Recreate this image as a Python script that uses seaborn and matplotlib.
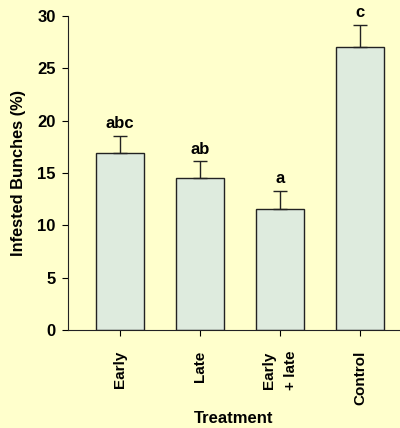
import numpy as np
import pandas as pd
import matplotlib
matplotlib.use("Agg")
import matplotlib.pyplot as plt
import seaborn as sns

treatments = ["Early", "Late", "Early\n+ late", "Control"]
infested = [16.9, 14.5, 11.55, 27.0]
errors = [1.6, 1.6, 1.7, 2.1]
letters = ["abc", "ab", "a", "c"]

bg = "#FFFFCC"
bar_color = "#DEEBDE"

sns.set_style("ticks")
plt.rcParams['font.family'] = ['Liberation Sans', 'DejaVu Sans']
plt.rcParams['font.weight'] = 'bold'
plt.rcParams['text.color'] = 'black'
plt.rcParams['axes.labelcolor'] = 'black'
plt.rcParams['xtick.color'] = 'black'
plt.rcParams['ytick.color'] = 'black'

df = pd.DataFrame({"Treatment": treatments, "Infested": infested})

fig = plt.figure(figsize=(4, 4.28), dpi=100, facecolor=bg)
ax = fig.add_axes([0.17, 0.229, 0.83, 0.734])
ax.set_facecolor(bg)

sns.barplot(data=df, x="Treatment", y="Infested", color=bar_color,
            width=0.59, edgecolor="#222222", linewidth=1.0, saturation=1, ax=ax)

x = np.arange(len(treatments))
ax.errorbar(x, infested, yerr=[np.zeros(len(errors)), errors], fmt="none",
            ecolor="#222222", elinewidth=1.0, capsize=5, capthick=1.0)

for xi, v, e, lab in zip(x, infested, errors, letters):
    ax.text(xi, v + e + 0.75, lab, ha="center", va="baseline",
            fontsize=12, fontweight="bold")

ax.set_xlim(-0.65, 3.5)
ax.set_ylim(0, 30)
ax.set_yticks([0, 5, 10, 15, 20, 25, 30])
ax.tick_params(axis="y", labelsize=12, length=4, width=0.8, pad=5)
ax.tick_params(axis="x", labelsize=11, length=4, width=0.8, pad=11)
ax.set_xticks(x)
ax.set_xticklabels(treatments, rotation=90, fontweight="bold")
ax.get_xticklabels()[2].set_linespacing(1.7)
for t in ax.get_yticklabels():
    t.set_fontweight("bold")

ax.set_xlabel("Treatment", fontsize=12, fontweight="bold", labelpad=4)
ax.set_ylabel("Infested Bunches (%)", fontsize=11.8, fontweight="bold", labelpad=8)

sns.despine(ax=ax)
for s in ["left", "bottom"]:
    ax.spines[s].set_color("#222222")
    ax.spines[s].set_linewidth(0.8)

fig.savefig("out.png", dpi=100, facecolor=bg)
